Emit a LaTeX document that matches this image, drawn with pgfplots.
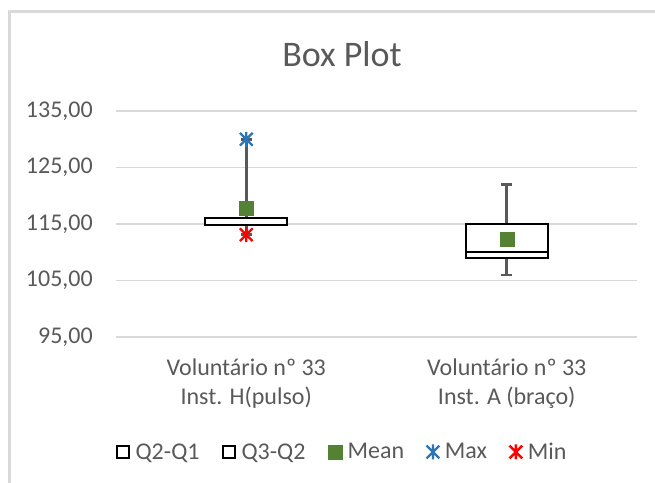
\documentclass[border=0pt]{standalone}
\usepackage{pgfplots}
\pgfplotsset{compat=1.18}
\usepgfplotslibrary{statistics}
\usepackage{fontspec}
\setmainfont{Carlito}

\definecolor{txtgray}{HTML}{595959}
\definecolor{gridgray}{HTML}{D9D9D9}
\definecolor{meangreen}{HTML}{548235}
\definecolor{maxblue}{HTML}{2E75B6}
\definecolor{minred}{HTML}{FF0000}

\newcommand\tk{\fontsize{24bp}{29bp}\selectfont}
\newcommand\ttl{\fontsize{36bp}{43bp}\selectfont}

% Excel-like star: vertical bar plus an X
\pgfdeclareplotmark{xstar}{%
  \pgfpathmoveto{\pgfqpoint{0pt}{\pgfplotmarksize}}%
  \pgfpathlineto{\pgfqpoint{0pt}{-\pgfplotmarksize}}%
  \pgfpathmoveto{\pgfqpoint{-0.85\pgfplotmarksize}{-0.85\pgfplotmarksize}}%
  \pgfpathlineto{\pgfqpoint{0.85\pgfplotmarksize}{0.85\pgfplotmarksize}}%
  \pgfpathmoveto{\pgfqpoint{-0.85\pgfplotmarksize}{0.85\pgfplotmarksize}}%
  \pgfpathlineto{\pgfqpoint{0.85\pgfplotmarksize}{-0.85\pgfplotmarksize}}%
  \pgfusepathqstroke}

\pgfplotsset{
  markleg/.style={legend image code/.code={%
    \draw[##1, mark repeat=2, mark phase=2] plot coordinates {(0bp,0bp)(7bp,0bp)(14bp,0bp)};}},
  boxleg/.style={legend image code/.code={%
    \draw[black, line width=1.8bp, fill=white] (0.9bp,-6.1bp) rectangle (13.1bp,6.1bp);}},
}

\begin{document}
\begin{tikzpicture}
\path[use as bounding box] (0,0) rectangle (655bp,483bp);
\draw[gridgray, line width=2.5bp] (9.5bp,-5bp) -- (9.5bp,471.5bp) -- (660bp,471.5bp);
\begin{axis}[
  at={(116bp,146bp)}, anchor=south west,
  scale only axis, width=521bp, height=226bp,
  xmin=-0.5, xmax=1.5, ymin=95, ymax=135,
  axis line style={draw=none},
  major tick length=0,
  ymajorgrids, grid style={gridgray, line width=1.5bp},
  ytick={95,105,115,125,135},
  yticklabels={{95,00},{105,00},{115,00},{125,00},{135,00}},
  yticklabel style={font=\tk, text=txtgray, inner sep=0pt, anchor=east, xshift=-23bp},
  xtick={0,1},
  xticklabels={{Voluntário nº 33\\Inst. H(pulso)},{Voluntário nº 33\\Inst. A (braço)}},
  xticklabel style={font=\tk, text=txtgray, align=center, inner sep=0pt, anchor=north, yshift=-22bp},
  title={Box Plot},
  title style={font=\ttl, text=txtgray, at={(0.4338,1.172)}, anchor=base, inner sep=0pt},
  legend columns=5,
  legend style={draw=none, fill=none, font=\tk, text=txtgray,
    at={(0.4338,-0.5088)}, anchor=center,
    nodes={inner sep=1.5bp},
    /tikz/every odd column/.append style={column sep=4bp},
    /tikz/every even column/.append style={column sep=21bp}},
  boxplot/draw direction=y,
  boxplot/every box/.style={draw=black, fill=white, line width=2bp},
  boxplot/every median/.style={draw=black, line width=2bp},
  boxplot/every whisker/.style={draw=txtgray, line width=2.6bp},
]
% box for Voluntario 33 Inst. H
\addplot[forget plot, black, line width=2bp, boxplot prepared={draw position=0,
  lower whisker=113.1, lower quartile=114.9, median=114.9,
  upper quartile=116.1, upper whisker=130,
  box extend=0.315, whisker extend=0.042}] coordinates {};
% box for Voluntario 33 Inst. A
\addplot[forget plot, black, line width=2bp, boxplot prepared={draw position=1,
  lower whisker=106, lower quartile=109, median=110.1,
  upper quartile=115, upper whisker=122,
  box extend=0.315, whisker extend=0.042}] coordinates {};

\addlegendimage{boxleg}
\addlegendentry{Q2-Q1}
\addlegendimage{boxleg}
\addlegendentry{Q3-Q2}

\addplot[only marks, mark=square*, mark size=7bp, mark options={fill=meangreen, draw=meangreen, line width=0.5bp}, markleg]
  coordinates {(0,117.8) (1,112.35)};
\addlegendentry{Mean}

\addplot[only marks, mark=xstar, mark size=7.5bp, mark options={draw=maxblue, line width=2.4bp}, markleg]
  coordinates {(0,130)};
\addlegendentry{Max}

\addplot[only marks, mark=xstar, mark size=7.5bp, mark options={draw=minred, line width=2.4bp}, markleg]
  coordinates {(0,113.1)};
\addlegendentry{Min}
\end{axis}
\end{tikzpicture}
\end{document}
